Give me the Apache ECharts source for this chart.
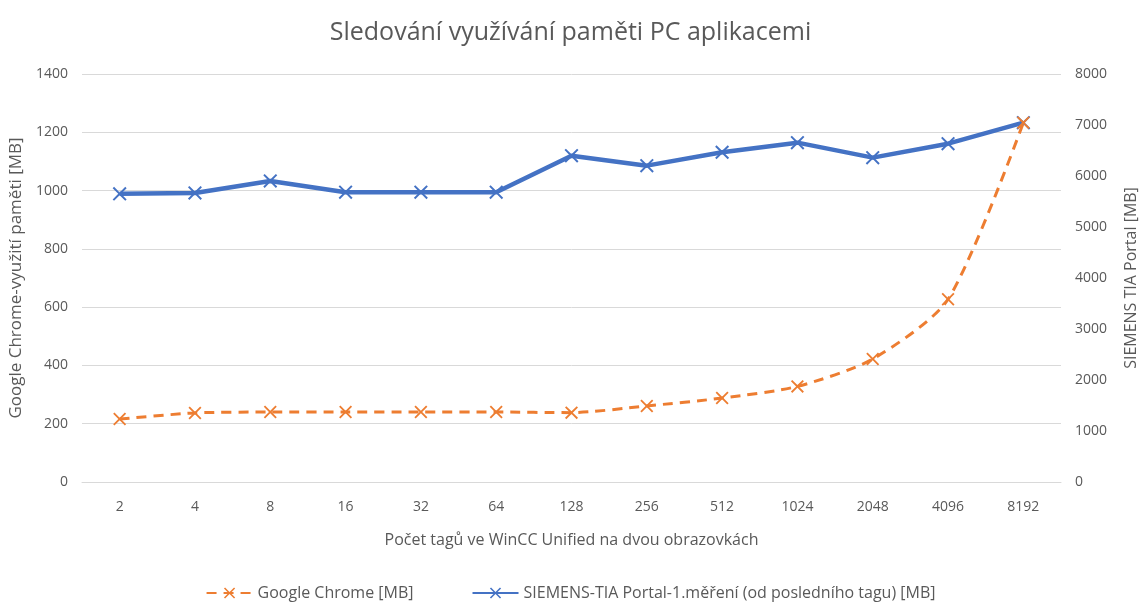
<!DOCTYPE html>
<html><head><meta charset="utf-8">
<script src="https://cdn.jsdelivr.net/npm/echarts@6/dist/echarts.min.js"></script>
<style>html,body{margin:0;padding:0;background:#fff}#c{width:1141px;height:608px}</style>
</head><body><div id="c"></div>
<script>
const categories = ['2','4','8','16','32','64','128','256','512','1024','2048','4096','8192'];
const chromeMB = [216, 237, 240, 240, 240, 240, 238, 261, 288, 328, 422, 627, 1233];
const tiaMB = [5650, 5668, 5903, 5682, 5682, 5682, 6399, 6203, 6466, 6654, 6360, 6634, 7045];
const leftTicks = {min: 0, max: 1400, interval: 200};
const rightTicks = {min: 0, max: 8000, interval: 1000};

const X = 'path://M0,1L1,0L5,4L9,0L10,1L6,5L10,9L9,10L5,6L1,10L0,9L4,5Z';
const txt = '#595959';
const plain = v => String(v);
const chart = echarts.init(document.getElementById('c'));
chart.setOption({
  animation: false,
  title: {text: 'Sledování využívání paměti PC aplikacemi', left: 'center', top: 15,
    textStyle: {fontFamily: 'Open Sans', fontWeight: 'normal', fontSize: 25, color: txt}},
  grid: {left: 82, right: 80, top: 74, bottom: 126, containLabel: false, outerBoundsMode: 'none'},
  legend: {bottom: 2, left: 'center', itemWidth: 46, itemHeight: 14, itemGap: 58,
    textStyle: {fontFamily: 'Open Sans', fontSize: 16, color: txt},
    data: ['Google Chrome [MB]', 'SIEMENS-TIA Portal-1.měření (od posledního tagu) [MB]']},
  xAxis: {type: 'category', data: categories, boundaryGap: true,
    name: 'Počet tagů ve WinCC Unified na dvou obrazovkách', nameLocation: 'middle', nameGap: 50,
    nameTextStyle: {fontFamily: 'Open Sans', fontSize: 16, color: txt},
    axisLine: {show: true, lineStyle: {color: '#d9d9d9', width: 1}},
    axisTick: {show: false},
    axisLabel: {fontFamily: 'Open Sans', fontSize: 14, color: txt, margin: 18}},
  yAxis: [
    {type: 'value', min: leftTicks.min, max: leftTicks.max, interval: leftTicks.interval,
      name: 'Google Chrome-využití paměti [MB]', nameLocation: 'middle', nameGap: 54, nameRotate: 90,
      nameTextStyle: {fontFamily: 'Open Sans', fontSize: 17, color: txt},
      axisLine: {show: false}, axisTick: {show: false},
      axisLabel: {fontFamily: 'Open Sans', fontSize: 14, color: txt, margin: 14, formatter: plain},
      splitLine: {lineStyle: {color: '#d9d9d9', width: 1}}},
    {type: 'value', min: rightTicks.min, max: rightTicks.max, interval: rightTicks.interval,
      name: 'SIEMENS TIA Portal [MB]', nameLocation: 'middle', nameGap: 62, nameRotate: 90,
      nameTextStyle: {fontFamily: 'Open Sans', fontSize: 16, color: txt},
      axisLine: {show: false}, axisTick: {show: false},
      axisLabel: {fontFamily: 'Open Sans', fontSize: 14, color: txt, margin: 14, formatter: plain},
      splitLine: {show: false}}
  ],
  series: [
    {name: 'Google Chrome [MB]', type: 'line', yAxisIndex: 0, data: chromeMB, smooth: 0.25,
      symbol: X, symbolSize: 13, color: '#ed7d31',
      lineStyle: {color: '#ed7d31', width: 3, type: [10, 7]},
      itemStyle: {color: '#ed7d31'}, z: 3},
    {name: 'SIEMENS-TIA Portal-1.měření (od posledního tagu) [MB]', type: 'line', yAxisIndex: 1, data: tiaMB,
      symbol: X, symbolSize: 14, color: '#4472c4',
      lineStyle: {color: '#4472c4', width: 4.5},
      itemStyle: {color: '#4472c4'}, z: 2}
  ]
});
</script></body></html>
